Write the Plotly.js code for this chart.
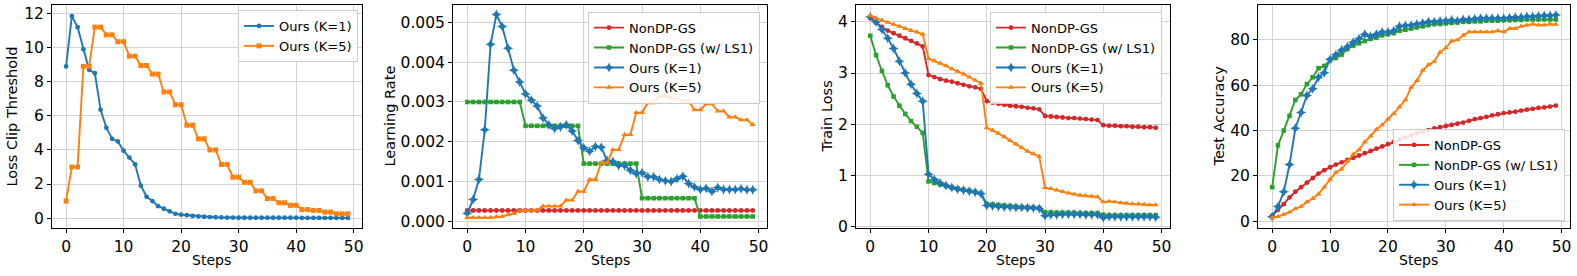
<!DOCTYPE html>
<html>
<head>
<meta charset="utf-8">
<script src="https://cdn.plot.ly/plotly-3.0.1.min.js"></script>
<style>html,body{margin:0;padding:0;background:#fff;}#chart{width:1577px;height:276px;}</style>
</head>
<body>
<div id="chart"></div>
<script>
const steps = Array.from({length: 50}, (_, i) => i);

// Panel 1: Loss Clip Threshold
const clipK1 = [8.9,11.85,11.2,9.9,8.7,8.5,6.35,5.3,4.65,4.5,3.95,3.55,3.15,1.9,1.25,1.0,0.7,0.55,0.4,0.25,
  0.2,0.17,0.13,0.1,0.08,0.06,0.05,0.04,0.03,0.03,0.02,0.02,0.02,0.02,0.02,0.02,0.02,0.02,0.02,0.02,
  0.02,0.01,0.01,0.01,0.01,0.01,0.01,0.01,0.01,0.01];
const clipK5 = [1.0,3.0,3.0,8.9,8.9,11.2,11.2,10.75,10.75,10.35,10.35,9.5,9.5,8.95,8.95,8.45,8.45,7.4,7.4,6.65,
  6.65,5.45,5.45,4.65,4.65,4.0,4.0,3.15,3.15,2.4,2.4,2.1,2.1,1.6,1.6,1.15,1.15,0.9,0.9,0.75,
  0.75,0.5,0.5,0.45,0.45,0.35,0.35,0.25,0.25,0.25];

// Panel 2: Learning Rate
const lrNonDP = Array(50).fill(0.00027);
const lrLS1 = [0.003,0.003,0.003,0.003,0.003,0.003,0.003,0.003,0.003,0.003,
  0.0024,0.0024,0.0024,0.0024,0.0024,0.0024,0.0024,0.0024,0.0024,0.0024,
  0.00145,0.00145,0.00145,0.00145,0.00145,0.00145,0.00145,0.00145,0.00145,0.00145,
  0.00058,0.00058,0.00058,0.00058,0.00058,0.00058,0.00058,0.00058,0.00058,0.00058,
  0.00012,0.00012,0.00012,0.00012,0.00012,0.00012,0.00012,0.00012,0.00012,0.00012];
const lrK1 = [0.0002,0.00055,0.00105,0.0023,0.00445,0.0052,0.0049,0.00435,0.0038,0.0035,
  0.0032,0.00305,0.0029,0.0026,0.00243,0.00233,0.00237,0.00243,0.00227,0.00203,
  0.00185,0.00176,0.00188,0.00186,0.00153,0.0015,0.0014,0.0014,0.00128,0.0012,
  0.00122,0.00112,0.00112,0.00105,0.00102,0.001,0.00107,0.00113,0.00095,0.00086,
  0.0008,0.00083,0.00075,0.00085,0.0008,0.0008,0.0008,0.00082,0.00079,0.00079];
const lrK5 = [0.00009,0.00009,0.00009,0.00009,0.00009,0.00011,0.00012,0.00017,0.00019,0.00026,
  0.00027,0.00027,0.00028,0.00038,0.00038,0.00038,0.00038,0.00053,0.00053,0.00075,
  0.00075,0.00105,0.00105,0.00147,0.00147,0.0018,0.0018,0.00218,0.00218,0.00273,
  0.00273,0.00298,0.00298,0.00315,0.00315,0.0031,0.0031,0.00303,0.00303,0.0028,
  0.0028,0.00295,0.00295,0.00277,0.00277,0.00262,0.00262,0.00255,0.00255,0.00243];

// Panel 3: Train Loss
const lossNonDP = [4.07,3.98,3.9,3.83,3.78,3.73,3.68,3.63,3.58,3.52,
  2.96,2.92,2.88,2.85,2.83,2.8,2.77,2.74,2.72,2.69,
  2.45,2.42,2.4,2.38,2.36,2.35,2.34,2.32,2.31,2.29,
  2.16,2.15,2.14,2.13,2.12,2.12,2.11,2.1,2.09,2.08,
  1.98,1.97,1.97,1.96,1.96,1.95,1.95,1.94,1.94,1.93];
const lossLS1 = [3.73,3.35,3.04,2.76,2.54,2.36,2.2,2.06,1.95,1.83,
  0.88,0.85,0.82,0.79,0.76,0.74,0.72,0.7,0.68,0.65,
  0.44,0.43,0.42,0.41,0.4,0.39,0.38,0.38,0.37,0.36,
  0.28,0.28,0.27,0.27,0.27,0.27,0.26,0.26,0.26,0.26,
  0.23,0.22,0.22,0.22,0.22,0.22,0.22,0.22,0.22,0.22];
const lossK1 = [4.1,4.0,3.85,3.68,3.48,3.23,3.0,2.78,2.6,2.45,
  1.02,0.92,0.85,0.8,0.76,0.73,0.71,0.69,0.67,0.64,
  0.41,0.4,0.39,0.38,0.38,0.37,0.37,0.36,0.36,0.35,
  0.21,0.23,0.23,0.24,0.24,0.24,0.24,0.23,0.23,0.23,
  0.17,0.19,0.19,0.19,0.19,0.19,0.19,0.19,0.19,0.18];
const lossK5 = [4.12,4.07,4.03,3.99,3.95,3.91,3.87,3.83,3.8,3.76,
  3.28,3.24,3.19,3.14,3.08,3.03,2.98,2.92,2.86,2.8,
  1.93,1.88,1.82,1.75,1.68,1.61,1.54,1.47,1.42,1.37,
  0.76,0.74,0.71,0.68,0.65,0.63,0.61,0.6,0.59,0.58,
  0.48,0.49,0.48,0.46,0.45,0.44,0.44,0.43,0.42,0.42];

// Panel 4: Test Accuracy
const accNonDP = [2.5,5,7.5,10.5,13,15,17,19,21,22.5,
  23.8,25,26,27,28,29,30,31,32,33,
  34,35,36,37,38,38.8,39.5,40.2,41,41.5,
  42,42.5,43,43.5,44.3,45,45.5,46,46.7,47.2,
  47.7,48,48.3,48.8,49.2,49.6,50,50.2,50.6,51];
const accLS1 = [15,33.5,40,46.5,53.5,56,60.5,63.5,67.5,68.5,
  71,72,73.5,76,77.5,78.5,79.5,80.5,81,82,
  82.5,83,84,84.5,85,85.5,86,86.5,87,87,
  87.3,87.5,87.7,88,88,88.2,88.2,88.5,88.5,88.5,
  88.7,88.7,88.8,88.8,89,89,89,89,89,89];
const accK1 = [2,6.5,13,25,41,48,55.5,58.5,63.5,65.5,
  71.5,73.5,75.5,77,79,80.5,82.5,81.5,82.5,83.5,
  83.5,84,86,86.3,86.5,87,87.5,88,88,88.3,
  88.5,88.8,88.5,89,89,89.3,89.5,89.5,89.5,89.5,
  89.5,89.8,90,90,90.3,90.3,90.5,90.8,90.8,91];
const accK5 = [1.5,2,3,4,5.5,6.5,8.5,10,12,15,
  18.5,21.5,23,26.5,29.5,31.5,35,37.5,40.5,42.5,
  45,47.5,50.5,53.5,59,62,66.5,69,70.5,74.5,
  76.5,79.5,80,82,83.5,83.5,83.5,83.5,83.5,84,
  83.5,85,85,86,86.5,87,86.5,86.5,87,86.8];

const names = ['NonDP-GS', 'NonDP-GS (w/ LS1)', 'Ours (K=1)', 'Ours (K=5)'];
const yTitles = ['Loss Clip Threshold', 'Learning Rate', 'Train Loss', 'Test Accuracy'];
const xTitle = 'Steps';
const xTickVals = [0, 10, 20, 30, 40, 50];

const RED = '#d62728', GREEN = '#2ca02c', BLUE = '#1f77b4', ORANGE = '#ff7f0e';
const FONT = 'DejaVu Sans';

function tr(y, name, color, symbol, size, xa, ya, lg) {
  return {x: steps, y: y, name: name, type: 'scatter', mode: 'lines+markers',
    line: {color: color, width: 1.9},
    marker: {color: color, symbol: symbol, size: size},
    xaxis: xa, yaxis: ya, legend: lg};
}

const data = [
  tr(clipK1, names[2], BLUE, 'circle', 4.8, 'x', 'y', 'legend'),
  tr(clipK5, names[3], ORANGE, 'square', 5, 'x', 'y', 'legend'),
  tr(lrNonDP, names[0], RED, 'circle', 4.8, 'x2', 'y2', 'legend2'),
  tr(lrLS1, names[1], GREEN, 'square', 4.6, 'x2', 'y2', 'legend2'),
  tr(lrK1, names[2], BLUE, 'star-diamond', 7.5, 'x2', 'y2', 'legend2'),
  tr(lrK5, names[3], ORANGE, 'triangle-up', 5.5, 'x2', 'y2', 'legend2'),
  tr(lossNonDP, names[0], RED, 'circle', 4.8, 'x3', 'y3', 'legend3'),
  tr(lossLS1, names[1], GREEN, 'square', 4.6, 'x3', 'y3', 'legend3'),
  tr(lossK1, names[2], BLUE, 'star-diamond', 7.5, 'x3', 'y3', 'legend3'),
  tr(lossK5, names[3], ORANGE, 'triangle-up', 5.5, 'x3', 'y3', 'legend3'),
  tr(accNonDP, names[0], RED, 'circle', 4.8, 'x4', 'y4', 'legend4'),
  tr(accLS1, names[1], GREEN, 'square', 4.6, 'x4', 'y4', 'legend4'),
  tr(accK1, names[2], BLUE, 'star-diamond', 7.5, 'x4', 'y4', 'legend4'),
  tr(accK5, names[3], ORANGE, 'triangle-up', 5.5, 'x4', 'y4', 'legend4')
];

function xax(dom, anchor) {
  return {domain: dom, anchor: anchor, range: [-2.45, 51.45], tickvals: xTickVals,
    showline: true, mirror: true, linecolor: '#000', linewidth: 1,
    ticks: 'outside', ticklen: 4, tickwidth: 1, tickcolor: '#000',
    showgrid: true, gridcolor: '#d3d3d3', gridwidth: 1, zeroline: false,
    tickfont: {family: FONT, size: 15.5, color: '#000'}};
}
function yax(range, dtick, anchor, fmt) {
  const a = {domain: [0, 1], anchor: anchor, range: range, dtick: dtick, tick0: 0,
    showline: true, mirror: true, linecolor: '#000', linewidth: 1,
    ticks: 'outside', ticklen: 4, tickwidth: 1, tickcolor: '#000',
    showgrid: true, gridcolor: '#d3d3d3', gridwidth: 1, zeroline: false,
    tickfont: {family: FONT, size: 15.5, color: '#000'}};
  if (fmt) a.tickformat = fmt;
  return a;
}
function leg(x, y, yanchor) {
  return {x: x, y: y, xanchor: 'right', yanchor: yanchor, xref: 'paper', yref: 'paper',
    bgcolor: 'rgba(255,255,255,0.85)', bordercolor: '#cccccc', borderwidth: 1,
    font: {family: FONT, size: 13, color: '#000'}, tracegroupgap: 0, itemwidth: 30};
}
const yTitleX = [11, 389, 826, 1218];
const xTitleX = [211, 610, 1015, 1418];
const annotations = yTitles.map((t, i) => ({
  text: t, textangle: -90, xref: 'paper', yref: 'paper',
  x: yTitleX[i] / 1577, y: 0.5, xanchor: 'center', yanchor: 'middle', showarrow: false,
  font: {family: FONT, size: 14.5, color: '#000'}
})).concat(xTitleX.map((px) => ({
  text: xTitle, xref: 'paper', yref: 'paper',
  x: px / 1577, y: (228 - 260) / 223, xanchor: 'center', yanchor: 'middle', showarrow: false,
  font: {family: FONT, size: 14, color: '#000'}
})));

const layout = {
  width: 1577, height: 276,
  margin: {l: 0, r: 0, t: 5, b: 48},
  paper_bgcolor: '#fff', plot_bgcolor: '#fff',
  showlegend: true,
  xaxis: xax([52/1577, 362/1577], 'y'),
  xaxis2: xax([453/1577, 767/1577], 'y2'),
  xaxis3: xax([856/1577, 1170/1577], 'y3'),
  xaxis4: xax([1258/1577, 1570/1577], 'y4'),
  yaxis: yax([-0.58, 12.5], 2, 'x'),
  yaxis2: yax([-0.00017, 0.00544], 0.001, 'x2', '.3f'),
  yaxis3: yax([-0.03, 4.33], 1, 'x3'),
  yaxis4: yax([-3, 95.4], 20, 'x4'),
  annotations: annotations,
  legend: leg(358/1577, (228-10)/223, 'top'),
  legend2: leg(760/1577, (228-11.7)/223, 'top'),
  legend3: leg(1162/1577, (228-11.7)/223, 'top'),
  legend4: leg(1565/1577, (228-221)/223, 'bottom')
};

Plotly.newPlot('chart', data, layout, {displayModeBar: false, staticPlot: true});
</script>
</body>
</html>
